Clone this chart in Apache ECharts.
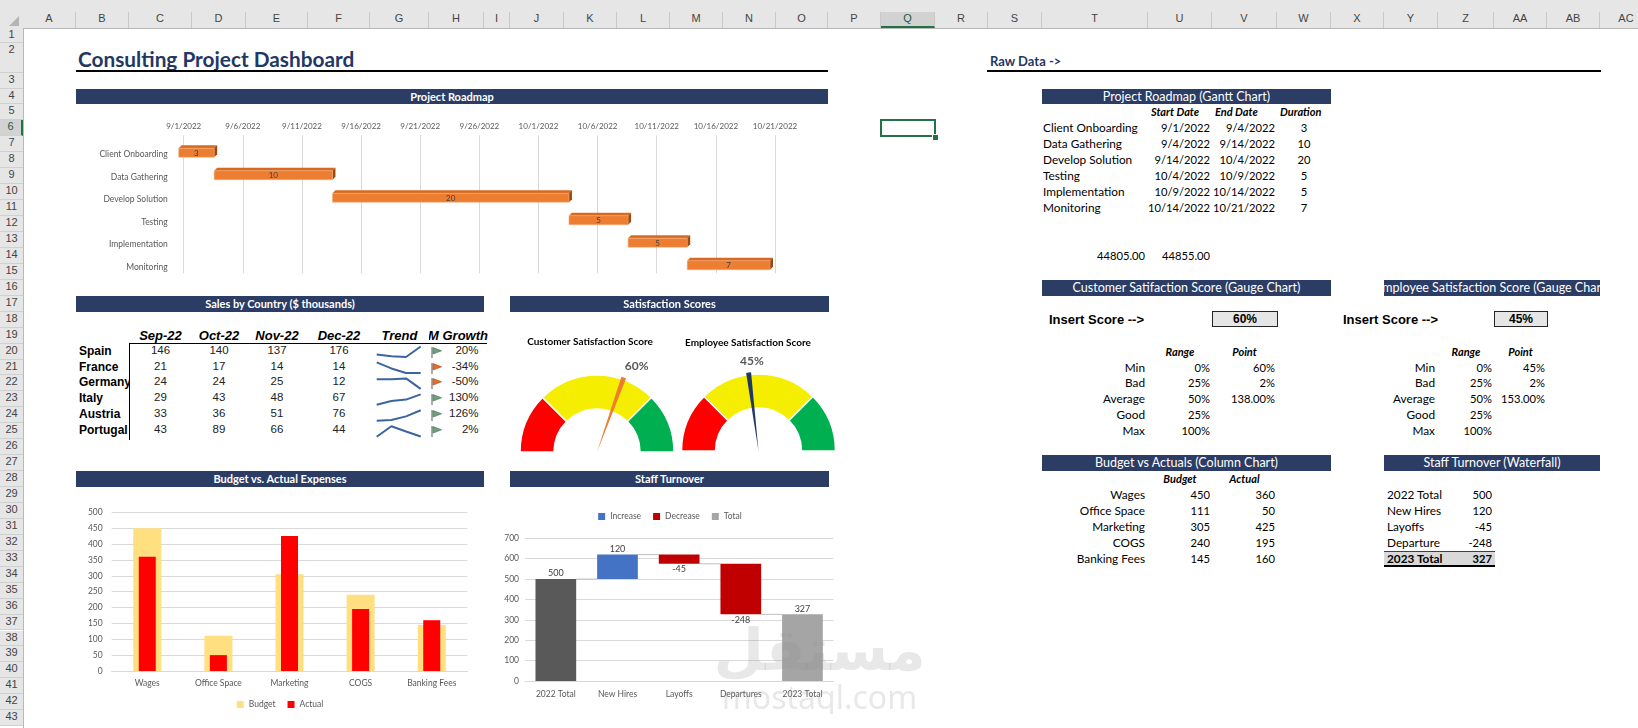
<!DOCTYPE html>
<html>
<head>
<meta charset="utf-8">
<title>Consulting Project Dashboard</title>
<script src="https://cdn.jsdelivr.net/npm/echarts@6.0.0/dist/echarts.min.js"></script>
<style>
    html, body { margin: 0; padding: 0; background: #fff; }
    #sheet { position: relative; width: 1638px; height: 728px; overflow: hidden; background: #fff; font-family: Lato, 'Liberation Sans', sans-serif; color: #000; }
    .chart { position: absolute; }
</style>
</head>
<body>
<div id="sheet">
    <div id="gantt" class="chart" style="left:76px;top:112px;width:752px;height:190px"></div>
    <div id="spark" class="chart" style="left:370px;top:343.6px;width:59px;height:96px"></div>
    <div id="gauges" class="chart" style="left:505px;top:313px;width:335px;height:150px"></div>
    <div id="budget" class="chart" style="left:76px;top:488px;width:408px;height:240px"></div>
    <div id="turnover" class="chart" style="left:500px;top:488px;width:340px;height:240px"></div>
</div>
<script>

// Project roadmap
var taskNames = ['Client Onboarding', 'Data Gathering', 'Develop Solution', 'Testing', 'Implementation', 'Monitoring'];
var taskStart = ['9/1/2022', '9/4/2022', '9/14/2022', '10/4/2022', '10/9/2022', '10/14/2022'];
var taskEnd = ['9/4/2022', '9/14/2022', '10/4/2022', '10/9/2022', '10/14/2022', '10/21/2022'];
var taskDuration = [3, 10, 20, 5, 5, 7];
var roadmapAxis = [44805, 44855];

// Sales by country
var countries = ['Spain', 'France', 'Germany', 'Italy', 'Austria', 'Portugal'];
var months = ['Sep-22', 'Oct-22', 'Nov-22', 'Dec-22'];
var salesSep = [146, 21, 24, 29, 33, 43];
var salesOct = [140, 17, 24, 43, 36, 89];
var salesNov = [137, 14, 25, 48, 51, 66];
var salesDec = [176, 14, 12, 67, 76, 44];
var momGrowth = [20, -34, -50, 130, 126, 2];

// Gauges
var gaugeBands = ['Min', 'Bad', 'Average', 'Good', 'Max'];
var gaugeRange = [0, 25, 50, 25, 100];
var customerPoint = [60, 2, 138];
var employeePoint = [45, 2, 153];

// Budget vs actual
var expenseCats = ['Wages', 'Office Space', 'Marketing', 'COGS', 'Banking Fees'];
var budgetValues = [450, 111, 305, 240, 145];
var actualValues = [360, 50, 425, 195, 160];

// Staff turnover
var turnoverCats = ['2022 Total', 'New Hires', 'Layoffs', 'Departures', '2023 Total'];
var turnoverRawCats = ['2022 Total', 'New Hires', 'Layoffs', 'Departure', '2023 Total'];
var turnoverValues = [500, 120, -45, -248, 327];
var turnoverTypes = ['total', 'increase', 'decrease', 'decrease', 'total'];


var FONT = 'Lato, "Liberation Sans", sans-serif';
var NAVY = '#2b3c65';
var sheet = document.getElementById('sheet');

var colNames = ['A', 'B', 'C', 'D', 'E', 'F', 'G', 'H', 'I', 'J', 'K', 'L', 'M', 'N', 'O', 'P', 'Q', 'R', 'S', 'T', 'U', 'V', 'W', 'X', 'Y', 'Z', 'AA', 'AB', 'AC'];
var colEdges = [23, 76, 129, 192, 246, 308, 370, 429, 484, 510, 564, 617, 670, 723, 776, 828, 881, 935, 988, 1042, 1148, 1212, 1277, 1331, 1384, 1438, 1494, 1547, 1600, 1653];

var rt = function (n) { return n === 1 ? 28 : (n === 2 ? 43 : 72.6 + (n - 3) * 15.94); };
var rh = function (n) { return n === 1 ? 15 : (n === 2 ? 29.6 : 15.94); };
var cx = function (name) { return colEdges[colNames.indexOf(name)]; };
var cw = function (name) { var i = colNames.indexOf(name); return colEdges[i + 1] - colEdges[i]; };

function put(x, y, w, h, html, css) {
    var d = document.createElement('div');
    d.style.cssText = 'position:absolute;left:' + x + 'px;top:' + y + 'px;width:' + w + 'px;height:' + h + 'px;line-height:' + h + 'px;white-space:nowrap;overflow:hidden;' + (css || '');
    d.innerHTML = html;
    sheet.appendChild(d);
    return d;
}

//
// Excel chrome
//
put(0, 0, 1638, 28, '', 'background:#e6e6e6');
colNames.forEach(function (n, i) {
    var sel = n === 'Q';
    put(colEdges[i], 12, colEdges[i + 1] - colEdges[i], 16, n,
        'box-sizing:border-box;text-align:center;font:11px "Liberation Sans";color:#444;border-right:1px solid #c9c9c9;' +
        (sel ? 'background:#d2d2d2;border-bottom:2px solid #217346;color:#1d5e3a;' : ''));
});
put(0, 27.5, 1638, 1, '', 'background:#b8b8b8');
put(9, 16, 0, 0, '', 'border-left:10px solid transparent;border-bottom:10px solid #b5b5b5;width:0;height:0;overflow:visible');
for (var r = 1; r <= 43; r++) {
    put(0, rt(r), 23, rh(r), r,
        'box-sizing:border-box;text-align:center;font:11px "Liberation Sans";color:#444;background:#e6e6e6;border-bottom:1px solid #d0d0d0;' +
        (r === 6 ? 'background:#d2d2d2;border-right:2px solid #217346;color:#1d5e3a;' : ''));
}
put(22.5, 28, 1, 700, '', 'background:#b8b8b8');
put(880, rt(6) - 1, 56, 18, '', 'box-sizing:border-box;border:2px solid #217346');
put(932.5, rt(6) + 14.5, 5, 5, '', 'background:#217346;outline:1px solid #fff');

//
// Titles and section bars
//
put(78, 45, 420, 28, 'Consulting Project Dashboard', 'font-weight:700;font-size:20.8px;color:#1f3864');
put(76, 70.2, 752, 2, '', 'background:#000');
put(990, 53, 200, 17, 'Raw Data -&gt;', 'font-weight:700;font-size:13px;color:#1f3864');
put(987, 70.2, 614, 2, '', 'background:#000');

function bar(x0, x1, row, text, css) {
    var inner = '<span style="position:absolute;left:50%;top:0;transform:translateX(-50%)">' + text + '</span>';
    return put(x0, rt(row), x1 - x0, rh(row), inner, 'background:' + NAVY + ';color:#fff;' + (css || ''));
}
var dashBar = 'font-weight:700;font-size:11px';
var rawBar = 'font-size:12.5px';
bar(76, 828, 4, 'Project Roadmap', dashBar);
bar(76, 484, 17, 'Sales by Country ($ thousands)', dashBar);
bar(510, 829, 17, 'Satisfaction Scores', dashBar);
bar(76, 484, 28, 'Budget vs. Actual Expenses', dashBar);
bar(510, 829, 28, 'Staff Turnover', dashBar);
bar(1042, 1331, 4, 'Project Roadmap (Gantt Chart)', rawBar);
bar(1042, 1331, 16, 'Customer Satifaction Score (Gauge Chart)', rawBar);
bar(1384, 1600, 16, 'Employee Satisfaction Score (Gauge Chart)', rawBar);
bar(1042, 1331, 27, 'Budget vs Actuals (Column Chart)', rawBar);
bar(1384, 1600, 27, 'Staff Turnover (Waterfall)', rawBar);

//
// Sales by country table
//
var salesByMonth = [salesSep, salesOct, salesNov, salesDec];
var hdrFont = 'font:italic bold 13px "Liberation Sans";text-align:center;';
var numFont = 'font:11.5px "Liberation Sans";color:#222;';
months.forEach(function (m, j) {
    var c = colNames[2 + j];
    put(cx(c), rt(19), cw(c), rh(19), m, hdrFont);
});
put(cx('G'), rt(19), cw('G'), rh(19), 'Trend', hdrFont);
put(cx('H'), rt(19), 59, rh(19), '<span style="position:absolute;right:0;top:0">MoM Growth</span>', hdrFont);
countries.forEach(function (name, i) {
    var row = 20 + i;
    put(79, rt(row), 50, rh(row), name, 'font:bold 12px "Liberation Sans"');
    salesByMonth.forEach(function (vals, j) {
        var c = colNames[2 + j];
        put(cx(c), rt(row), cw(c), rh(row), vals[i], 'text-align:center;' + numFont);
    });
    var up = momGrowth[i] >= 0;
    var flag = '<svg width="12" height="11" viewBox="0 0 12 11">' +
        '<line x1="1" y1="0" x2="1" y2="11" stroke="#7f7f7f" stroke-width="1.3"/>' +
        '<polygon points="2,0.6 10.5,3.8 2,7" fill="' + (up ? '#6f9e80' : '#e4702a') + '" stroke="' + (up ? '#4c7a5c' : '#b4521a') + '" stroke-width="0.7"/></svg>';
    put(431, rt(row) + 3, 12, 11, flag, 'line-height:0');
    put(429, rt(row), 49.5, rh(row), momGrowth[i] + '%', 'text-align:right;' + numFont);
});
put(128.5, 342.7, 1.5, 97, '', 'background:#000');
put(128.5, 342.7, 358, 1.5, '', 'background:#000');

//
// Raw data tables
//
var rawFont = 'font-size:11.8px;';
var rawNum = 'font-size:11.2px;';
var rawHdr = 'font-size:11px;font-weight:700;font-style:italic;';
put(cx('U') + 3, rt(5), 70, rh(5), 'Start Date', rawHdr);
put(cx('V') + 3, rt(5), 70, rh(5), 'End Date', rawHdr);
put(cx('W') + 3, rt(5), 60, rh(5), 'Duration', rawHdr);
taskNames.forEach(function (name, i) {
    var row = 6 + i;
    put(cx('T') + 1, rt(row), 105, rh(row), name, rawFont);
    put(cx('U') - 6, rt(row), cw('U') + 4, rh(row), taskStart[i], rawNum + 'text-align:right');
    put(cx('V') - 6, rt(row), cw('V') + 4, rh(row), taskEnd[i], rawNum + 'text-align:right');
    put(cx('W'), rt(row), cw('W'), rh(row), taskDuration[i], rawNum + 'text-align:center');
});
put(cx('T'), rt(14), cw('T') - 3, rh(14), roadmapAxis[0].toFixed(2), rawNum + 'text-align:right');
put(cx('U'), rt(14), cw('U') - 2, rh(14), roadmapAxis[1].toFixed(2), rawNum + 'text-align:right');

var fmtPoint = function (v, k) { return k === 2 ? v.toFixed(2) + '%' : v + '%'; };
function gaugeTable(insertX, boxCol, lblCol, rangeCol, pointCol, point) {
    put(insertX, rt(18), 120, rh(18), 'Insert Score --&gt;', 'font:bold 13px "Liberation Sans"');
    put(cx(boxCol), rt(18) - 0.5, cw(boxCol) + 1, rh(18), point[0] + '%',
        'box-sizing:border-box;border:1px solid #262626;background:#e7e6e6;text-align:center;font:bold 12px "Liberation Sans";line-height:14px');
    put(cx(rangeCol), rt(20), cw(rangeCol), rh(20), 'Range', rawHdr + 'text-align:center');
    put(cx(pointCol), rt(20), cw(pointCol), rh(20), 'Point', rawHdr + 'text-align:center');
    gaugeBands.forEach(function (b, k) {
        var row = 21 + k;
        put(cx(lblCol), rt(row), cw(lblCol) - 3, rh(row), b, rawFont + 'text-align:right');
        put(cx(rangeCol), rt(row), cw(rangeCol) - 2, rh(row), gaugeRange[k] + '%', rawNum + 'text-align:right');
        if (k < point.length) {
            put(cx(pointCol) - 6, rt(row), cw(pointCol) + 4, rh(row), fmtPoint(point[k], k), rawNum + 'text-align:right');
        }
    });
}
gaugeTable(1049, 'V', 'T', 'U', 'V', customerPoint);
gaugeTable(1343, 'AA', 'Y', 'Z', 'AA', employeePoint);

put(cx('U'), rt(28), cw('U'), rh(28), 'Budget', rawHdr + 'text-align:center');
put(cx('V'), rt(28), cw('V'), rh(28), 'Actual', rawHdr + 'text-align:center');
expenseCats.forEach(function (name, i) {
    var row = 29 + i;
    put(cx('T'), rt(row), cw('T') - 3, rh(row), name, rawFont + 'text-align:right');
    put(cx('U'), rt(row), cw('U') - 2, rh(row), budgetValues[i], rawNum + 'text-align:right');
    put(cx('V'), rt(row), cw('V') - 2, rh(row), actualValues[i], rawNum + 'text-align:right');
});
turnoverRawCats.forEach(function (name, i) {
    var row = 29 + i;
    var last = i === turnoverRawCats.length - 1;
    if (last) {
        put(cx('Y'), rt(row), cx('AA') - cx('Y') + 1, rh(row), '', 'box-sizing:border-box;background:#d9d9d9;border-top:1px solid #404040;border-bottom:2px solid #000');
    }
    var bold = last ? 'font-weight:700;' : '';
    put(cx('Y') + 3, rt(row), 70, rh(row), name, rawFont + bold);
    put(cx('Z'), rt(row), cw('Z') - 2, rh(row), turnoverValues[i], rawNum + bold + 'text-align:right');
});


//
// Gantt chart (3D-look bars)
//
var toSerial = function (s) {
    var p = s.split('/');
    return Math.round((Date.UTC(+p[2], +p[0] - 1, +p[1]) - Date.UTC(1899, 11, 30)) / 86400000);
};
var fromSerial = function (v) {
    var d = new Date(Date.UTC(1899, 11, 30) + v * 86400000);
    return (d.getUTCMonth() + 1) + '/' + d.getUTCDate() + '/' + d.getUTCFullYear();
};
var ganttData = taskNames.map(function (n, i) {
    return [toSerial(taskStart[i]), toSerial(taskEnd[i]), i, taskDuration[i]];
});

var gantt = echarts.init(document.getElementById('gantt'));
gantt.setOption({
    animation: false,
    textStyle: { fontFamily: FONT },
    grid: [
        { left: 107.7, top: 23.3, width: 591.3, height: 138 },
        { left: 107.7, top: 31.5, width: 591.3, height: 135 }
    ],
    xAxis: [
        {
            gridIndex: 0, type: 'value', position: 'top',
            min: roadmapAxis[0], max: roadmapAxis[1], interval: 5,
            axisLine: { show: false }, axisTick: { show: false },
            splitLine: { show: true, lineStyle: { color: '#d9d9d9' } },
            axisLabel: { fontSize: 8, color: '#595959', margin: 5, formatter: fromSerial, showMinLabel: true, showMaxLabel: true }
        },
        { gridIndex: 1, type: 'value', min: roadmapAxis[0], max: roadmapAxis[1], show: false }
    ],
    yAxis: [
        { gridIndex: 0, type: 'value', show: false },
        {
            gridIndex: 1, type: 'category', data: taskNames, inverse: true,
            axisLine: { show: false }, axisTick: { show: false },
            axisLabel: { fontSize: 8.5, color: '#595959', margin: 16 }
        }
    ],
    series: [{
        type: 'custom',
        xAxisIndex: 1,
        yAxisIndex: 1,
        encode: { x: [0, 1], y: 2 },
        data: ganttData,
        renderItem: function (params, api) {
            var p0 = api.coord([api.value(0), api.value(2)]);
            var p1 = api.coord([api.value(1), api.value(2)]);
            var h = 9, d = 3;
            var x0 = p0[0] - 5, x1 = p1[0] - 5;
            var y0 = p0[1] - 2 - h / 2, y1 = y0 + h;
            return {
                type: 'group',
                children: [
                    { type: 'polygon', shape: { points: [[x0, y0], [x0 + d, y0 - d], [x1 + d, y0 - d], [x1, y0]] }, style: { fill: '#d8691f' } },
                    { type: 'polygon', shape: { points: [[x1, y0], [x1 + d, y0 - d], [x1 + d, y1 - d], [x1, y1]] }, style: { fill: '#9c4810' } },
                    { type: 'rect', shape: { x: x0, y: y0, width: x1 - x0, height: h }, style: { fill: '#ed7d31', stroke: '#f4b183', lineWidth: 0.5 } },
                    {
                        type: 'text',
                        style: {
                            text: String(api.value(3)), x: (x0 + x1) / 2, y: (y0 + y1) / 2 + 0.5,
                            align: 'center', verticalAlign: 'middle', textAlign: 'center', textVerticalAlign: 'middle',
                            fill: '#404040', fontSize: 8, fontFamily: FONT
                        }
                    }
                ]
            };
        }
    }]
});


//
// Sparklines
//
var sparkGrids = [], sparkX = [], sparkY = [], sparkSeries = [];
countries.forEach(function (c, i) {
    sparkGrids.push({ left: 6.7, width: 44, top: i * 15.94 + 2.5, height: 10.5 });
    sparkX.push({ gridIndex: i, type: 'category', boundaryGap: false, data: months, show: false });
    sparkY.push({
        gridIndex: i, type: 'value', show: false,
        min: function (v) { return v.min; },
        max: function (v) { return v.max; }
    });
    sparkSeries.push({
        type: 'line', xAxisIndex: i, yAxisIndex: i, clip: false, symbol: 'none',
        data: salesByMonth.map(function (vals) { return vals[i]; }),
        lineStyle: { color: '#3b64a3', width: 2 }
    });
});
var spark = echarts.init(document.getElementById('spark'));
spark.setOption({ animation: false, grid: sparkGrids, xAxis: sparkX, yAxis: sparkY, series: sparkSeries });


//
// Gauges
//
function gaugeSeries(center, point, color, layout) {
    var clear = 'rgba(0,0,0,0)';
    return [
        {
            type: 'pie', center: center, radius: [43, 77], startAngle: 180, silent: true,
            label: { show: false }, labelLine: { show: false },
            itemStyle: { borderColor: '#fff', borderWidth: 1.5 },
            data: [
                { value: gaugeRange[1], name: gaugeBands[1], itemStyle: { color: '#ff0000' } },
                { value: gaugeRange[2], name: gaugeBands[2], itemStyle: { color: '#f5ee00' } },
                { value: gaugeRange[3], name: gaugeBands[3], itemStyle: { color: '#00b050' } },
                { value: gaugeRange[4], name: gaugeBands[4], itemStyle: { color: clear, borderWidth: 0 } }
            ]
        },
        {
            type: 'pie', center: center, radius: [0, 79], startAngle: 180, silent: true, avoidLabelOverlap: false,
            label: { show: false }, labelLine: { show: false, length: 6, length2: 0 },
            labelLayout: layout,
            data: [
                { value: point[0], name: 'a', itemStyle: { color: clear } },
                {
                    value: point[1], name: point[0] + '%', itemStyle: { color: color },
                    label: { show: true, position: 'outside', formatter: '{b}', fontSize: 12, fontWeight: 'bold', color: '#595959', fontFamily: FONT }
                },
                { value: point[2], name: 'b', itemStyle: { color: clear } }
            ]
        }
    ];
}
var gauges = echarts.init(document.getElementById('gauges'));
gauges.setOption({
    animation: false,
    textStyle: { fontFamily: FONT },
    title: [
        { text: 'Customer Satisfaction Score', left: 80, top: 19, textAlign: 'center', textStyle: { fontSize: 10, fontWeight: 'bold', color: '#000', fontFamily: FONT } },
        { text: 'Employee Satisfaction Score', left: 238, top: 20, textAlign: 'center', textStyle: { fontSize: 10, fontWeight: 'bold', color: '#000', fontFamily: FONT } }
    ],
    series: gaugeSeries([92, 139], customerPoint, '#ed7d31', { dx: -6, dy: -6 })
        .concat(gaugeSeries([253.5, 138], employeePoint, '#203864', { dx: 21, dy: -6 }))
});


//
// Budget vs actual
//
var budget = echarts.init(document.getElementById('budget'));
budget.setOption({
    animation: false,
    textStyle: { fontFamily: FONT },
    grid: { left: 35.7, top: 24.3, width: 355.6, height: 158.7 },
    legend: {
        top: 207, left: 'center', icon: 'rect', itemWidth: 7, itemHeight: 7, itemGap: 12,
        textStyle: { fontSize: 8.5, color: '#595959' },
        data: ['Budget', 'Actual']
    },
    xAxis: [
        {
            type: 'category', data: expenseCats,
            axisLine: { lineStyle: { color: '#d9d9d9' } }, axisTick: { show: false },
            axisLabel: { fontSize: 8.5, color: '#595959', margin: 8 }
        },
        { type: 'category', data: expenseCats, show: false }
    ],
    yAxis: {
        type: 'value', min: 0, max: 500, interval: 50,
        axisLabel: { fontSize: 8.5, color: '#595959', margin: 9 },
        splitLine: { lineStyle: { color: '#d9d9d9' } }
    },
    series: [
        { name: 'Budget', type: 'bar', data: budgetValues, barWidth: 28, itemStyle: { color: '#ffdf80' } },
        { name: 'Actual', type: 'bar', xAxisIndex: 1, data: actualValues, barWidth: 17, itemStyle: { color: '#ff0000' } }
    ]
});


//
// Staff turnover waterfall
//
var running = 0, wfBase = [], wfInc = [], wfDec = [], wfTot = [], wfLevels = [];
turnoverValues.forEach(function (v, i) {
    var t = turnoverTypes[i];
    if (t === 'total') {
        wfBase.push(0); wfInc.push('-'); wfDec.push('-');
        wfTot.push({ value: v, itemStyle: { color: i === 0 ? '#595959' : '#a5a5a5' } });
        running = v;
    } else if (t === 'increase') {
        wfBase.push(running); wfInc.push(v); wfDec.push('-'); wfTot.push('-');
        running += v;
    } else {
        running += v;
        wfBase.push(running); wfDec.push(-v); wfInc.push('-'); wfTot.push('-');
    }
    wfLevels.push([i, running]);
});

var wfLabel = { show: true, fontSize: 9, color: '#404040', distance: 1 };
var turnover = echarts.init(document.getElementById('turnover'));
turnover.setOption({
    animation: false,
    textStyle: { fontFamily: FONT },
    grid: { left: 25, top: 50.3, width: 308.3, height: 142.7 },
    legend: {
        top: 19, left: 'center', icon: 'rect', itemWidth: 7, itemHeight: 7, itemGap: 12,
        textStyle: { fontSize: 8.5, color: '#595959' },
        data: ['Increase', 'Decrease', 'Total']
    },
    xAxis: {
        type: 'category', data: turnoverCats,
        axisLine: { lineStyle: { color: '#d9d9d9' } }, axisTick: { show: false },
        axisLabel: { fontSize: 8.5, color: '#595959', margin: 8.5 }
    },
    yAxis: {
        type: 'value', min: 0, max: 700, interval: 100,
        axisLabel: { fontSize: 8.5, color: '#595959', margin: 6 },
        splitLine: { lineStyle: { color: '#d9d9d9' } }
    },
    series: [
        { name: 'base', type: 'bar', stack: 'w', barWidth: 40.7, silent: true, itemStyle: { color: 'rgba(0,0,0,0)' }, data: wfBase },
        {
            name: 'Increase', type: 'bar', stack: 'w', barWidth: 40.7, itemStyle: { color: '#4472c4' },
            label: Object.assign({ position: 'top' }, wfLabel), data: wfInc
        },
        {
            name: 'Decrease', type: 'bar', stack: 'w', barWidth: 40.7, itemStyle: { color: '#c00000' },
            label: Object.assign({ position: 'bottom', formatter: function (p) { return turnoverValues[p.dataIndex]; } }, wfLabel),
            data: wfDec
        },
        {
            name: 'Total', type: 'bar', stack: 'w', barWidth: 40.7, itemStyle: { color: '#a5a5a5' },
            label: Object.assign({ position: 'top' }, wfLabel), data: wfTot
        },
        {
            type: 'custom', silent: true, z: 1,
            data: wfLevels.slice(0, -1),
            renderItem: function (params, api) {
                var p = api.coord([api.value(0), api.value(1)]);
                var band = api.size([1, 0])[0];
                return {
                    type: 'line',
                    shape: { x1: p[0] + band * 0.33, y1: p[1], x2: p[0] + band * 0.67, y2: p[1] },
                    style: { stroke: '#bfbfbf', lineWidth: 1 }
                };
            }
        }
    ]
});

// Watermark of the screenshot source
put(712, 618, 215, 64, 'مستقل', 'font:bold 58px "DejaVu Sans";color:rgba(140,140,140,0.2);text-align:center;line-height:64px;direction:rtl');
put(712, 680, 215, 34, 'mostaql.com', 'font:32px "Noto Sans";color:rgba(140,140,140,0.2);text-align:center;line-height:34px');

</script>
</body>
</html>
